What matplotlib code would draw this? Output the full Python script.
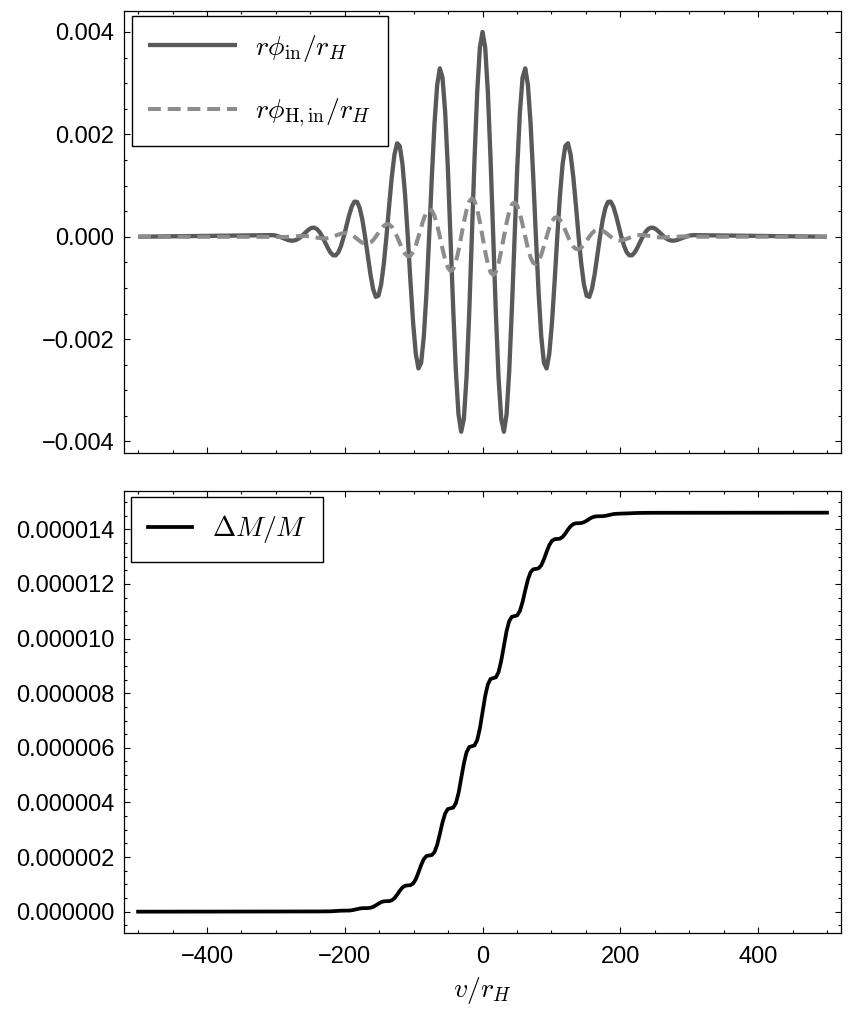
import numpy as np
import matplotlib
matplotlib.use("Agg")
import matplotlib.pyplot as plt
from matplotlib.ticker import MultipleLocator, FuncFormatter

# ---------------- data ----------------
# sample positions of the wave packet (v / r_H)
v_wave = np.linspace(-310, 310, 161)
v_start, v_end = -500, 500

# r*phi_in / r_H  (units of 1e-4)
phi_in = [
    0.30, 0.31, 0.27, 0.16, 0.00, -0.21, -0.42, -0.62,
    -0.75, -0.78, -0.66, -0.40, 0.00, 0.49, 1.00, 1.45,
    1.74, 1.76, 1.48, 0.88, 0.00, -1.06, -2.15, -3.07,
    -3.62, -3.64, -3.03, -1.78, 0.00, 2.09, 4.16, 5.88,
    6.85, 6.80, 5.59, 3.25, 0.00, -3.72, -7.32, -10.20,
    -11.75, -11.53, -9.36, -5.37, 0.00, 5.99, 11.67, 16.04,
    18.25, 17.70, 14.19, 8.04, 0.00, -8.76, -16.85, -22.90,
    -25.73, -24.64, -19.52, -10.93, 0.00, 11.62, 22.08, 29.62,
    32.88, 31.11, 24.34, 13.46, 0.00, -13.96, -26.19, -34.73,
    -38.09, -35.60, -27.51, -15.03, 0.00, 15.22, 28.20, 36.93,
    40.00, 36.93, 28.20, 15.22, 0.00, -15.03, -27.51, -35.60,
    -38.09, -34.73, -26.19, -13.96, 0.00, 13.46, 24.34, 31.11,
    32.88, 29.62, 22.08, 11.62, 0.00, -10.93, -19.52, -24.64,
    -25.73, -22.90, -16.85, -8.76, 0.00, 8.04, 14.19, 17.70,
    18.25, 16.04, 11.67, 5.99, 0.00, -5.37, -9.36, -11.53,
    -11.75, -10.20, -7.32, -3.72, 0.00, 3.25, 5.59, 6.80,
    6.85, 5.88, 4.16, 2.09, 0.00, -1.78, -3.03, -3.64,
    -3.62, -3.07, -2.15, -1.06, 0.00, 0.88, 1.48, 1.76,
    1.74, 1.45, 1.00, 0.49, 0.00, -0.40, -0.66, -0.78,
    -0.75, -0.62, -0.42, -0.21, 0.00, 0.16, 0.27, 0.31,
    0.30,
]

# r*phi_H,in / r_H  (units of 1e-4)
phi_H_in = [
    0.00, -0.02, -0.04, -0.05, -0.06, -0.06, -0.05, -0.03,
    0.00, 0.04, 0.08, 0.11, 0.13, 0.14, 0.12, 0.07,
    0.00, -0.09, -0.18, -0.27, -0.33, -0.33, -0.28, -0.17,
    0.00, 0.21, 0.42, 0.60, 0.72, 0.72, 0.61, 0.36,
    0.00, -0.43, -0.85, -1.20, -1.40, -1.40, -1.15, -0.67,
    0.00, 0.77, 1.52, 2.13, 2.45, 2.40, 1.95, 1.12,
    0.00, -1.26, -2.44, -3.35, -3.82, -3.71, -2.97, -1.69,
    0.00, 1.83, 3.53, 4.80, 5.35, 5.12, 4.05, 2.27,
    0.00, -2.39, -4.52, -6.06, -6.70, -6.32, -4.92, -2.71,
    0.00, 2.79, 5.20, 6.87, 7.49, 6.97, 5.35, 2.91,
    0.00, -2.91, -5.35, -6.97, -7.49, -6.87, -5.20, -2.79,
    0.00, 2.71, 4.92, 6.32, 6.70, 6.06, 4.52, 2.39,
    0.00, -2.27, -4.05, -5.12, -5.35, -4.80, -3.53, -1.83,
    0.00, 1.69, 2.97, 3.71, 3.82, 3.35, 2.44, 1.26,
    0.00, -1.12, -1.95, -2.40, -2.45, -2.13, -1.52, -0.77,
    0.00, 0.67, 1.15, 1.40, 1.40, 1.20, 0.85, 0.43,
    0.00, -0.36, -0.61, -0.72, -0.72, -0.60, -0.42, -0.21,
    0.00, 0.17, 0.28, 0.33, 0.33, 0.27, 0.18, 0.09,
    0.00, -0.07, -0.12, -0.14, -0.13, -0.11, -0.08, -0.04,
    0.00, 0.03, 0.05, 0.06, 0.06, 0.05, 0.04, 0.02,
    0.00,
]

# Delta M / M  (units of 1e-6)
v_mass = np.linspace(-248, 248, 129)
dM_final = 14.61
dM = [
    0.004, 0.006, 0.008, 0.009, 0.009, 0.009, 0.010, 0.013,
    0.019, 0.026, 0.033, 0.036, 0.038, 0.038, 0.041, 0.052,
    0.071, 0.095, 0.116, 0.128, 0.131, 0.131, 0.143, 0.175,
    0.229, 0.293, 0.348, 0.378, 0.385, 0.387, 0.417, 0.495,
    0.621, 0.766, 0.886, 0.950, 0.963, 0.970, 1.031, 1.189,
    1.435, 1.707, 1.925, 2.037, 2.058, 2.072, 2.181, 2.446,
    2.843, 3.268, 3.596, 3.758, 3.787, 3.809, 3.968, 4.337,
    4.871, 5.423, 5.834, 6.028, 6.060, 6.089, 6.282, 6.710,
    7.305, 7.900, 8.328, 8.521, 8.550, 8.582, 8.776, 9.187,
    9.739, 10.273, 10.642, 10.801, 10.823, 10.852, 11.014, 11.342,
    11.767, 12.164, 12.429, 12.538, 12.552, 12.573, 12.685, 12.903,
    13.175, 13.421, 13.579, 13.640, 13.647, 13.660, 13.724, 13.844,
    13.989, 14.115, 14.193, 14.223, 14.225, 14.232, 14.262, 14.317,
    14.381, 14.435, 14.467, 14.479, 14.479, 14.482, 14.494, 14.515,
    14.539, 14.558, 14.569, 14.572, 14.572, 14.574, 14.577, 14.584,
    14.591, 14.597, 14.600, 14.601, 14.601, 14.601, 14.602, 14.604,
    14.606,
]

label_in = r"$r\phi_{\mathrm{in}}/r_H$"
label_Hin = r"$r\phi_{\mathrm{H,in}}/r_H$"
label_M = r"$\Delta M/M$"
xlabel = r"$v/r_H$"

# ---------------- build arrays ----------------
v_top = np.concatenate([[v_start], v_wave, [v_end]])
y_in = np.concatenate([[0.0], phi_in, [0.0]]) * 1e-4
y_Hin = np.concatenate([[0.0], phi_H_in, [0.0]]) * 1e-4
v_bot = np.concatenate([[v_start], v_mass, [v_end]])
y_M = np.concatenate([[0.0], dM, [dM_final]]) * 1e-6

# ---------------- style ----------------
plt.rcParams["font.family"] = ["Liberation Sans", "DejaVu Sans"]
plt.rcParams["mathtext.fontset"] = "cm"

fig = plt.figure(figsize=(8.58, 10.13), dpi=100)
ax1 = fig.add_axes([0.1449, 0.5528, 0.8350, 0.4368])
ax2 = fig.add_axes([0.1449, 0.0787, 0.8350, 0.4369])

ax1.plot(v_top, y_in, color="#595959", lw=3.1, solid_joinstyle="round",
         solid_capstyle="butt", label=label_in, zorder=2)
ax1.plot(v_top, y_Hin, color="#8c8c8c", lw=2.9, ls=(0, (3.2, 1.7)),
         label=label_Hin, zorder=3)
ax2.plot(v_bot, y_M, color="black", lw=2.7, solid_joinstyle="round",
         label=label_M)


def fmt_top(x, pos):
    if abs(x) < 1e-12:
        x = 0.0
    return ("%.3f" % x).replace("-", "\u2212")


def fmt_bot(x, pos):
    if abs(x) < 1e-15:
        x = 0.0
    return ("%.6f" % x).replace("-", "\u2212")


for ax in (ax1, ax2):
    ax.set_xlim(-520, 520)
    ax.xaxis.set_major_locator(MultipleLocator(200))
    ax.xaxis.set_minor_locator(MultipleLocator(50))
    ax.tick_params(which="both", direction="in", top=True, right=True,
                   width=0.8, colors="black", labelsize=17)
    ax.tick_params(which="major", length=4.3, pad=7)
    ax.tick_params(which="minor", length=2.4)
    ax.tick_params(axis="x", which="major", pad=9)
    for s in ax.spines.values():
        s.set_linewidth(0.9)
        s.set_color("black")

ax1.set_ylim(-0.004225, 0.004418)
ax1.yaxis.set_major_locator(MultipleLocator(0.002))
ax1.yaxis.set_minor_locator(MultipleLocator(0.0005))
ax1.yaxis.set_major_formatter(FuncFormatter(fmt_top))
ax1.tick_params(labelbottom=False)

ax2.set_ylim(-0.791e-6, 15.415e-6)
ax2.yaxis.set_major_locator(MultipleLocator(2e-6))
ax2.yaxis.set_minor_locator(MultipleLocator(0.5e-6))
ax2.yaxis.set_major_formatter(FuncFormatter(fmt_bot))
ax2.set_xlabel(xlabel, fontsize=20, labelpad=5)

leg1 = ax1.legend(loc="upper left", bbox_to_anchor=(0.0103, 0.9876),
                  borderaxespad=0, fontsize=20, handlelength=3.2,
                  handletextpad=0.65, labelspacing=1.2, borderpad=0.6,
                  fancybox=False, edgecolor="black", framealpha=1)
leg1.get_frame().set_linewidth(1.0)

leg2 = ax2.legend(loc="upper left", bbox_to_anchor=(0.0094, 0.9864),
                  borderaxespad=0, fontsize=20, handlelength=1.6,
                  handletextpad=0.7, borderpad=0.6,
                  fancybox=False, edgecolor="black", framealpha=1)
leg2.get_frame().set_linewidth(1.0)

fig.savefig("out.png", dpi=100)
